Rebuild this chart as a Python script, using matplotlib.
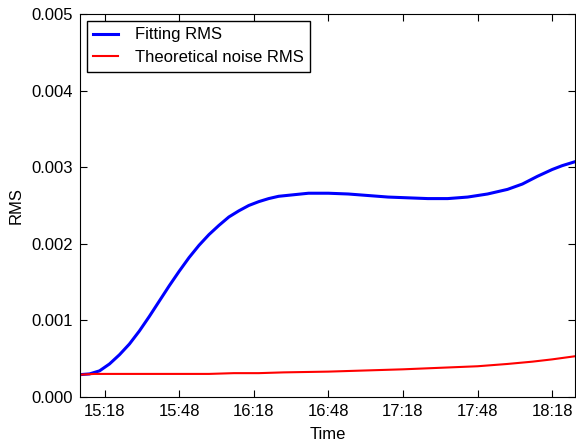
import datetime as dt
import matplotlib
matplotlib.use("Agg")
import matplotlib.pyplot as plt
import matplotlib.dates as mdates

plt.rcParams['font.family'] = ['Liberation Sans', 'DejaVu Sans']

# fitting RMS
fit_times = ["15:08", "15:12", "15:16", "15:20", "15:24", "15:28", "15:32", "15:36",
             "15:40", "15:44", "15:48", "15:52", "15:56", "16:00", "16:04", "16:08",
             "16:12", "16:16", "16:20", "16:24", "16:28", "16:34", "16:40", "16:48",
             "16:56", "17:04", "17:12", "17:20", "17:28", "17:36", "17:44", "17:52",
             "18:00", "18:06", "18:12", "18:18", "18:22", "18:27"]
fit_rms = [0.00029, 0.00030, 0.00034, 0.00043, 0.00055, 0.00069, 0.00086, 0.00105,
           0.00125, 0.00145, 0.00164, 0.00182, 0.00198, 0.00212, 0.00224, 0.00235,
           0.00243, 0.00250, 0.00255, 0.00259, 0.00262, 0.00264, 0.00266, 0.00266,
           0.00265, 0.00263, 0.00261, 0.00260, 0.00259, 0.00259, 0.00261, 0.00265,
           0.00271, 0.00278, 0.00288, 0.00297, 0.00302, 0.00307]

# theoretical noise RMS
noise_times = ["15:08", "15:14", "15:30", "15:50", "16:00", "16:10", "16:20", "16:30",
               "16:48", "17:18", "17:48", "18:00", "18:10", "18:18", "18:27"]
noise_rms = [0.00029, 0.00030, 0.00030, 0.00030, 0.00030, 0.00031, 0.00031, 0.00032,
             0.00033, 0.00036, 0.00040, 0.00043, 0.00046, 0.00049, 0.00053]


def to_dt(labels):
    return [dt.datetime(2015, 1, 1, int(s[:2]), int(s[3:])) for s in labels]


fig = plt.figure(figsize=(5.76, 4.4), dpi=100)
ax = fig.add_axes([0.139, 0.098, 0.86, 0.87])

ax.plot(to_dt(fit_times), fit_rms, color="blue", lw=2.2, label="Fitting RMS")
ax.plot(to_dt(noise_times), noise_rms, color="red", lw=1.5, label="Theoretical noise RMS")

ax.set_xlim(dt.datetime(2015, 1, 1, 15, 8, 10), dt.datetime(2015, 1, 1, 18, 27, 20))
ax.set_ylim(0, 0.005)
ax.set_yticks([0, 0.001, 0.002, 0.003, 0.004, 0.005])
ax.set_yticklabels(["0.000", "0.001", "0.002", "0.003", "0.004", "0.005"])
ax.xaxis.set_major_locator(mdates.MinuteLocator(byminute=[18, 48]))
ax.xaxis.set_major_formatter(mdates.DateFormatter("%H:%M"))

ax.tick_params(direction="in", top=True, right=True, length=5, labelsize=12, pad=5)
ax.set_xlabel("Time", fontsize=12, labelpad=6)
ax.set_ylabel("RMS", fontsize=12, labelpad=6)

leg = ax.legend(loc="upper left", fontsize=12, fancybox=False, framealpha=1,
                edgecolor="black", handlelength=1.5, handletextpad=1.0,
                borderpad=0.4, labelspacing=0.45, borderaxespad=0.4)
leg.get_frame().set_linewidth(1)

fig.savefig("out.png", dpi=100)
